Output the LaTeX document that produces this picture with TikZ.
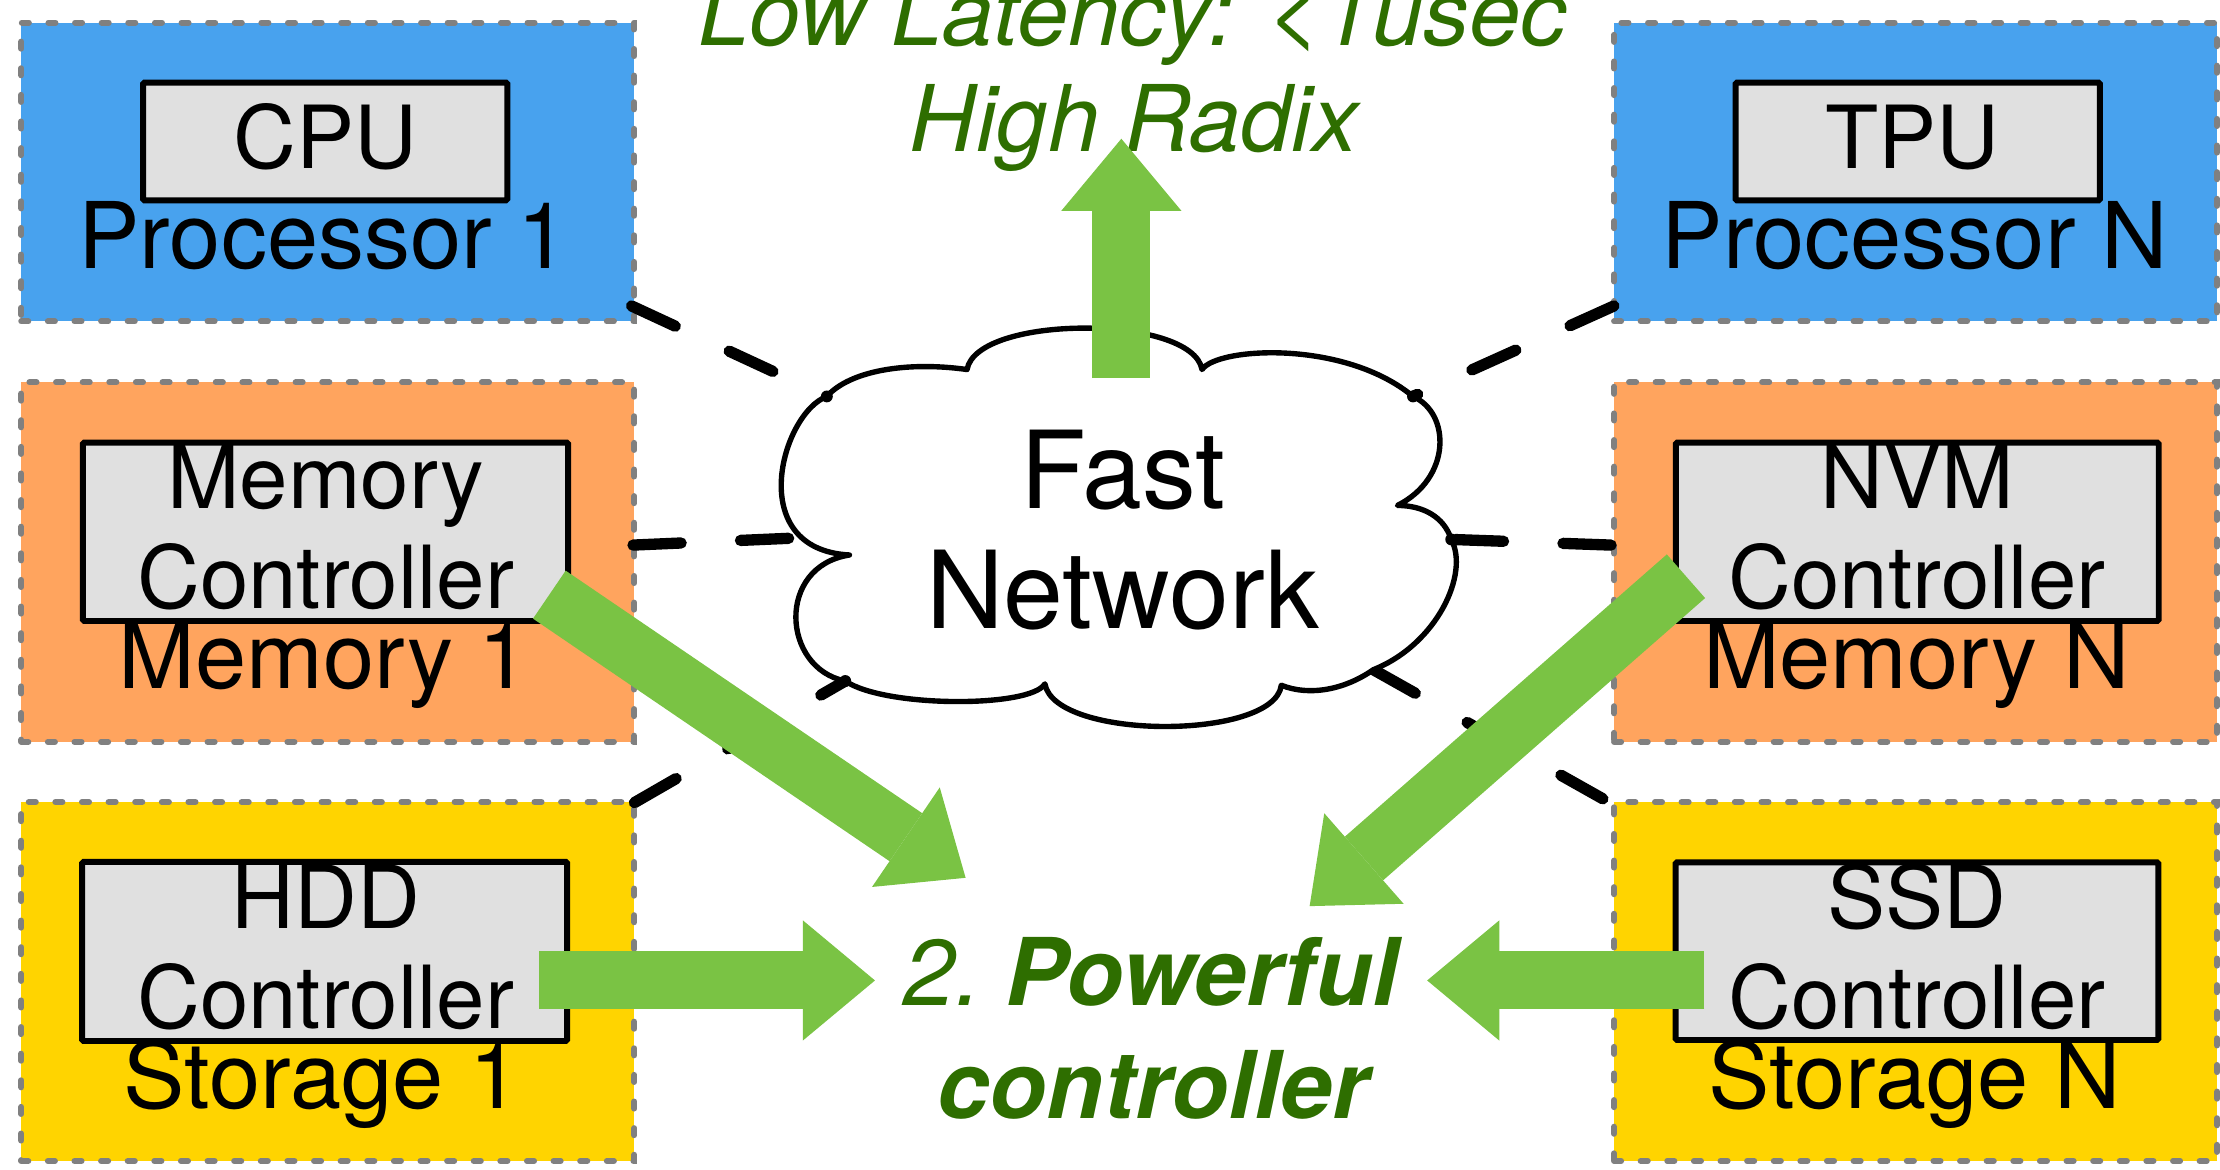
\documentclass[tikz,border=0pt]{standalone}
\usepackage{fontspec}
\setmainfont{TeX Gyre Heros}
\usetikzlibrary{arrows.meta,calc}

\definecolor{procblue}{RGB}{72,162,238}
\definecolor{memorange}{RGB}{255,164,94}
\definecolor{storyellow}{RGB}{255,212,0}
\definecolor{ctrlgray}{RGB}{224,224,224}
\definecolor{framegray}{RGB}{128,128,128}
\definecolor{fatgreen}{RGB}{122,195,68}
\definecolor{notegreen}{RGB}{46,110,0}

\begin{document}
\begin{tikzpicture}[x=1pt,y=-1pt,
  unitbox/.style={draw=framegray, line width=4.2pt, dash pattern=on 5pt off 13.8pt,
                  line cap=round, inner sep=0pt},
  ctrlbox/.style={draw=black, line width=4.2pt, fill=ctrlgray, inner sep=0pt,
                  rounded corners=1pt},
  unitlbl/.style={anchor=base, inner sep=0pt, font=\fontsize{65}{78}\selectfont},
  ctrllbl/.style={anchor=base, inner sep=0pt, font=\fontsize{61.5}{74}\selectfont},
  netlbl/.style={anchor=base, inner sep=0pt, font=\fontsize{76}{90}\selectfont},
  notelbl/.style={anchor=base, inner sep=0pt, text=notegreen,
                  font=\fontsize{65}{78}\selectfont\itshape},
  ctrlnote/.style={anchor=base, inner sep=0pt, text=notegreen,
                  font=\fontsize{66}{80}\selectfont\itshape},
  link/.style={draw=black, line width=8pt, line cap=round, dash pattern=on 34pt off 42pt},
  cloudline/.style={draw=black, line width=3.8pt, line join=round, fill=white},
  fatarrow/.style={draw=fatgreen, line width=41pt,
                   -{Triangle[length=51pt,width=85pt,line width=0pt,fill=fatgreen]}}
]
\useasboundingbox (0,0) rectangle (1568,826);
\fill[white] (0,0) rectangle (1568,826);
\clip (0,0) rectangle (1568,826);

% ---------- left column units ----------
\node[unitbox, fill=procblue,   minimum width=433pt, minimum height=211pt]   (proc1) at (231.5,121.5) {};
\node[unitbox, fill=memorange,  minimum width=433pt, minimum height=254pt]   (mem1)  at (231.5,397) {};
\node[unitbox, fill=storyellow, minimum width=433pt, minimum height=253.5pt] (sto1)  at (231.5,693.25) {};

% ---------- right column units ----------
\node[unitbox, fill=procblue,   minimum width=426pt, minimum height=211pt]   (procN) at (1353,121.5) {};
\node[unitbox, fill=memorange,  minimum width=426pt, minimum height=254pt]   (memN)  at (1353,397) {};
\node[unitbox, fill=storyellow, minimum width=426pt, minimum height=253.5pt] (stoN)  at (1353,693.25) {};

% ---------- controllers ----------
\node[ctrlbox, minimum width=257.3pt, minimum height=83.2pt] (cpu) at (229.7,99.9) {};
\node[ctrlbox, minimum width=257.3pt, minimum height=83.2pt] (tpu) at (1354.5,99.9) {};
\node[ctrlbox, minimum width=342.7pt, minimum height=126pt]  (mc1) at (229.9,375.6) {};
\node[ctrlbox, minimum width=341pt,   minimum height=126pt]  (nvm) at (1354.2,375.6) {};
\node[ctrlbox, minimum width=342.5pt, minimum height=126.5pt] (hdd) at (229.3,672) {};
\node[ctrlbox, minimum width=341pt,   minimum height=125.5pt] (ssd) at (1354,671.8) {};

% ---------- labels ----------
\node[ctrllbl] (cpuT) at (229.6,119) {CPU};
\node[ctrllbl] (tpuT) at (1351,119) {TPU};
\node[unitlbl] (proc1T) at (228.5,189.5) {Processor 1};
\node[unitlbl] (procNT) at (1352.4,189.5) {Processor N};

\node[ctrllbl] (mc1a) at (230,359) {Memory};
\node[ctrllbl] (mc1b) at (230,430) {Controller};
\node[ctrllbl] (nvma) at (1354,359) {NVM};
\node[ctrllbl] (nvmb) at (1354,430) {Controller};
\node[unitlbl] (mem1T) at (229,486.2) {Memory 1};
\node[unitlbl] (memNT) at (1353.5,486.2) {Memory N};

\node[ctrllbl] (hdda) at (230,655.7) {HDD};
\node[ctrllbl] (hddb) at (230,726.3) {Controller};
\node[ctrllbl] (ssda) at (1354,655.7) {SSD};
\node[ctrllbl] (ssdb) at (1354,726.3) {Controller};
\node[unitlbl] (sto1T) at (227.5,782.8) {Storage 1};
\node[unitlbl] (stoNT) at (1352.3,782.8) {Storage N};

% ---------- attachment points on the network cloud ----------
\coordinate (nTL) at (584,280);
\coordinate (nTR) at (998,280);
\coordinate (nR)  at (1025,381);
\coordinate (nBL) at (597,481);
\coordinate (nBR) at (970,473);
\coordinate (nL)  at (562,380);

% ---------- dashed links between units and the network ----------
\coordinate (lP1) at ($(proc1.south east)+(-4,-13)$);
\coordinate (lM1) at ($(mem1.east)+(-3,-12)$);
\coordinate (lS1) at ($(sto1.north east)+(-2,2.5)$);
\coordinate (lPN) at ($(procN.south west)+(2,-13)$);
\coordinate (lMN) at ($(memN.west)+(0,-12)$);
\coordinate (lSN) at ($(stoN.north west)+(-1,2.5)$);

\draw[link] (lP1) -- (nTL);
\draw[link] (lM1) -- (nL);
\draw[link] (lS1) -- (nBL);
\draw[link] (lPN) -- (nTR);
\draw[link] (lMN) -- (nR);
\draw[link] (nBR) -- (lSN);

% ---------- network cloud ----------
\draw[cloudline]
  (nTL) .. controls (600,262) and (640,255) .. (683,261)
        .. controls (690,222) and (842,222) .. (849,261)
        .. controls (860,245) and (950,240) .. (nTR)
        .. controls (1025,292) and (1025,338) .. (987,357)
        .. controls (1005,357) and (1020,365) .. (nR)
        .. controls (1038,405) and (1015,455) .. (nBR)
        .. controls (950,487) and (925,492) .. (905,484)
        .. controls (900,523) and (745,523) .. (738,483)
        .. controls (728,500) and (625,500) .. (nBL)
        .. controls (552,472) and (548,400) .. (600,392)
        .. controls (525,388) and (552,292) .. (nTL) -- cycle;
\foreach \p in {nTL,nTR,nR,nBL} \fill[black] (\p) circle (4.2pt);

\node[netlbl] (netA) at (793,359) {Fast};
\node[netlbl] (netB) at (793,443.8) {Network};

% ---------- notes ----------
\node[notelbl] (latency) at (800,31.8) {Low Latency: <1usec};
\node[notelbl] (radix)   at (801,107.1) {High Radix};
\node[ctrlnote] (powA) at (813,710) {2.\kern17pt\textbf{Powerful}};
\node[ctrlnote] (powB) at (814.5,790) {\textbf{controller}};

% ---------- wide green arrows ----------
\coordinate (netTop) at (792,267);
\coordinate (tipUp)  at (792,98);
\coordinate (mcOut)  at (388,420);
\coordinate (tipMC)  at (682,620);
\coordinate (nvmOut) at (1190.8,407);
\coordinate (tipNVM) at (925,640);
\coordinate (hddOut) at (380.7,692.5);
\coordinate (tipHDD) at (618,692.5);
\coordinate (ssdOut) at (1203.8,692.5);
\coordinate (tipSSD) at (1008,692.5);

\draw[fatarrow] (netTop) -- (tipUp);
\draw[fatarrow] (mcOut) -- (tipMC);
\draw[fatarrow] (nvmOut) -- (tipNVM);
\draw[fatarrow] (hddOut) -- (tipHDD);
\draw[fatarrow] (ssdOut) -- (tipSSD);
\end{tikzpicture}
\end{document}
